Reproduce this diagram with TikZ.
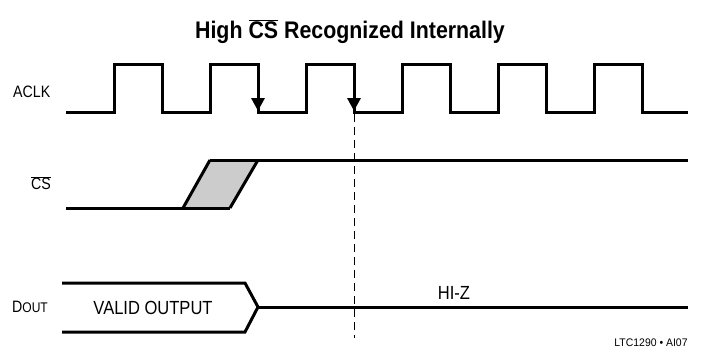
\documentclass[tikz,border=0pt]{standalone}
\usepackage{fontspec}
\setmainfont{Liberation Sans}
\usetikzlibrary{arrows.meta}
\begin{document}
\begin{tikzpicture}[x=1pt,y=-1pt,
  sig/.style={line width=3pt,line join=miter},
  lbl/.style={inner sep=0pt,font=\fontsize{16.5}{16.5}\selectfont,xscale=0.86},
  biglbl/.style={inner sep=0pt,font=\fontsize{19}{19}\selectfont,xscale=0.87},
  clkarrow/.style={line width=3pt,-{Triangle[width=13pt,length=13pt]}}]
\useasboundingbox (0,0) rectangle (701,348);
% title
\node[inner sep=0pt,font=\bfseries\fontsize{24}{24}\selectfont,xscale=0.89] (title) at (350,32) {High $\overline{\mbox{CS}}$ Recognized Internally};
% ACLK
\node[lbl,anchor=west] (aclk) at (13,92) {ACLK};
\coordinate (c0) at (66,112);
\coordinate (cend) at (688,112);
\draw[sig] (c0) -- (114,112) -- (114,64) -- (162,64) -- (162,112) -- (210,112) -- (210,64) -- (258,64) -- (258,112)
  -- (306,112) -- (306,64) -- (354,64) -- (354,112) -- (402,112) -- (402,64) -- (450,64) -- (450,112)
  -- (498,112) -- (498,64) -- (546,64) -- (546,112) -- (594,112) -- (594,64) -- (642,64) -- (642,112) -- (cend);
\coordinate (a1t) at (258,64);
\coordinate (a1b) at (258,111);
\coordinate (a2t) at (354,64);
\coordinate (a2b) at (354,111);
\draw[clkarrow] (a1t) -- (a1b);
\draw[clkarrow] (a2t) -- (a2b);
% dashed line
\coordinate (d1) at (354,114);
\coordinate (d2) at (354,338);
\draw[line width=1pt,dash pattern=on 8pt off 5pt] (d1) -- (d2);
% CS
\node[lbl,anchor=west] (cs) at (31,183) {$\overline{\mbox{CS}}$};
\fill[black!20] (183,208) -- (210,160) -- (258,160) -- (230,208) -- cycle;
\draw[sig] (66,208) -- (230,208);
\draw[sig] (183,208) -- (210,160);
\draw[sig] (230,208) -- (258,160);
\draw[sig] (210,160) -- (688,160);
% DOUT
\node[lbl,anchor=west] (dout) at (12,307) {D{\fontsize{14}{14}\selectfont OUT}};
\draw[sig] (62,283) -- (245,283) -- (258,307) -- (245,332) -- (62,332);
\draw[sig] (258,307) -- (688,307);
\node[biglbl] (valid) at (153,308) {VALID OUTPUT};
\node[biglbl] (hiz) at (454,293) {HI-Z};
\node[inner sep=0pt,font=\fontsize{11}{11}\selectfont,xscale=0.95] (ref) at (651,343) {LTC1290 • AI07};
\end{tikzpicture}
\end{document}
